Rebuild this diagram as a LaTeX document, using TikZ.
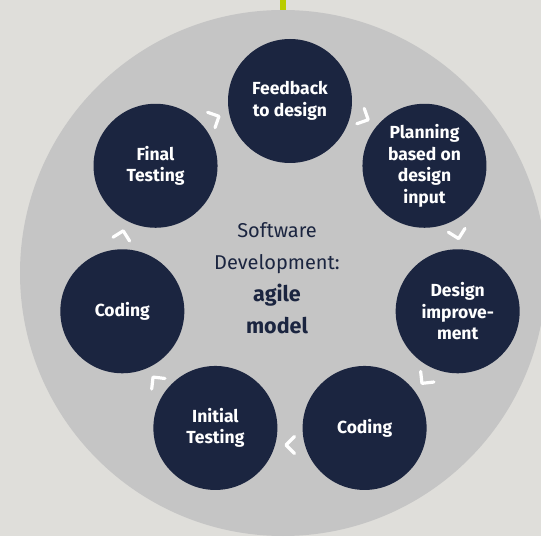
\documentclass[tikz,border=0pt]{standalone}
\usepackage{fontspec}
\setmainfont{Fira Sans}
\usetikzlibrary{calc}
\definecolor{paper}{HTML}{DFDEDA}
\definecolor{disc}{HTML}{C5C5C5}
\definecolor{navy}{HTML}{1B2540}
\definecolor{lime}{HTML}{B9CC00}
\begin{document}
\begin{tikzpicture}[x=1pt, y=1pt,
                    stage/.style={circle, fill=navy, minimum size=124pt, inner sep=0pt,
                      text=white, align=center, font=\bfseries\fontsize{17.5}{21.5}\selectfont},
                    hubtext/.style={text=navy, align=center, font=\fontsize{20}{32}\selectfont},
                    chevron/.style={draw=white, line width=3.2pt, line cap=round, line join=round}]
  \useasboundingbox (0,0) rectangle (541,536);
  \clip (0,0) rectangle (541,536);
  \fill[paper] (0,0) rectangle (541,536);
  % big grey disc and the green tick on top
  \fill[disc] (283,263) circle (263);
  \coordinate (top) at (283,526);
  \fill[lime] ($(top)+(-3,0)$) rectangle ($(top)+(3,10)$);
  % ring of steps
  \coordinate (hub) at (290,263);
  \node[stage] (feedback) at ($(hub)+(90:172)$) {Feedback\\to design};
  \node[stage] (planning) at ($(hub)+(38.57:172)$) {Planning\\based on\\design\\input};
  \node[stage] (design) at ($(hub)+(-12.86:172)$) {Design\\improve-\\ment};
  \node[stage] (coding2) at ($(hub)+(-64.29:172)$) {Coding};
  \node[stage] (initial) at ($(hub)+(-115.71:172)$) {Initial\\Testing};
  \node[stage] (coding1) at ($(hub)+(-167.14:172)$) {Coding};
  \node[stage] (final) at ($(hub)+(141.43:172)$) {Final\\Testing};
  \node[hubtext] (title) at (277,258) {Software\\Development:\\{\bfseries\fontsize{21.5}{32}\selectfont agile}\\{\bfseries\fontsize{21.5}{32}\selectfont model}};
  % chevrons between the steps
  \foreach \a in {64.29, 12.86, -38.57, -90, -141.43, -192.86, 115.71} {
    \begin{scope}[shift={($(hub)+(\a:172)$)}, rotate=\a-90]
      \draw[chevron] (-4.5,8.5) -- (4,0) -- (-4.5,-8.5);
    \end{scope}
  }
\end{tikzpicture}
\end{document}
